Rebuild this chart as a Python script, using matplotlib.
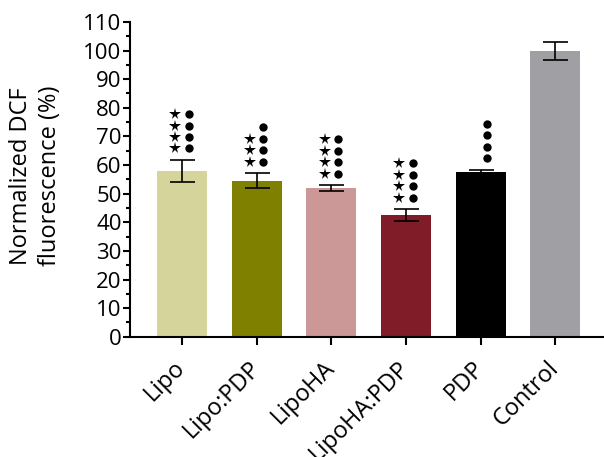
import matplotlib
matplotlib.use('Agg')
import matplotlib.pyplot as plt
import numpy as np

plt.rcParams['font.family'] = ['Open Sans', 'DejaVu Sans']

# Data
groups = ['Lipo', 'Lipo:PDP', 'LipoHA', 'LipoHA:PDP', 'PDP', 'Control']
means = [58.0, 54.6, 52.0, 42.6, 57.7, 99.9]
errors = [3.8, 2.6, 1.0, 2.0, 0.7, 3.2]
n_stars = [4, 3, 4, 4, 0, 0]
n_dots = [4, 4, 4, 4, 4, 0]
colours = ['#d5d49b', '#7f7f00', '#cc9797', '#801c28', '#000000', '#a0a0a4']

fig = plt.figure(figsize=(6.04, 4.57), dpi=100)
ax = fig.add_axes([0.215, 0.263, 0.785, 0.689])

x = np.arange(len(groups))
ax.bar(x, means, width=0.67, color=colours, zorder=1)
ax.errorbar(x, means, yerr=errors, fmt='none', ecolor='black',
            elinewidth=1.2, capsize=9, capthick=1.2, zorder=2)

# Significance markers: stars (left column) and dots (right column)
step = 4.0
for i in range(len(groups)):
    base = means[i] + errors[i] + 4.0
    for k in range(n_stars[i]):
        ax.plot(i - 0.09, base + k * step, marker='*', color='black',
                markersize=8.5, markeredgewidth=0, linestyle='none', zorder=3)
    for k in range(n_dots[i]):
        ax.plot(i + 0.09, base + k * step, marker='o', color='black',
                markersize=6, markeredgewidth=0, linestyle='none', zorder=3)

ax.set_xlim(-0.696, 5.65)
ax.set_ylim(0, 110)
ax.set_yticks(np.arange(0, 111, 10))
ax.set_yticks(np.arange(5, 110, 10), minor=True)
ax.set_yticklabels([str(v) for v in range(0, 111, 10)], fontsize=16)
ax.set_xticks(x)
ax.set_xticklabels(groups, rotation=45, ha='right', va='center',
                   rotation_mode='anchor', fontsize=17)

ax.spines['top'].set_visible(False)
ax.spines['right'].set_visible(False)
ax.spines['left'].set_linewidth(1.5)
ax.spines['bottom'].set_linewidth(1.5)
ax.tick_params(axis='y', which='major', length=5, width=1.5, pad=1)
ax.tick_params(axis='y', which='minor', length=3, width=1.5)
ax.tick_params(axis='x', which='major', length=6, width=1.5, pad=14)

ax.set_ylabel('Normalized DCF\nfluorescence (%)', fontsize=17, linespacing=1.3)
ax.yaxis.set_label_coords(-0.143, 0.51)

fig.savefig('out.png', dpi=100)
